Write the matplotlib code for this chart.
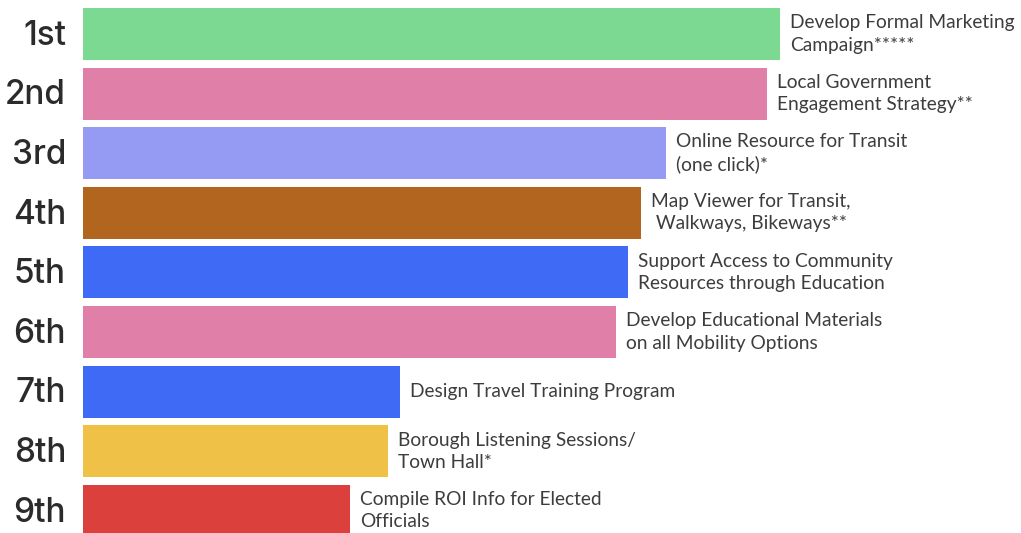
import matplotlib
matplotlib.use("Agg")
import matplotlib.pyplot as plt

ranks = ["1st", "2nd", "3rd", "4th", "5th", "6th", "7th", "8th", "9th"]
labels = [
    "Develop Formal Marketing\nCampaign*****",
    "Local Government\nEngagement Strategy**",
    "Online Resource for Transit\n(one click)*",
    "Map Viewer for Transit,\n Walkways, Bikeways**",
    "Support Access to Community\nResources through Education",
    "Develop Educational Materials\non all Mobility Options",
    "Design Travel Training Program",
    "Borough Listening Sessions/\nTown Hall*",
    "Compile ROI Info for Elected\nOfficials",
]
scores = [697, 684, 583, 558, 545, 533, 317, 305, 267]
colors = ["#7bd992", "#e07fa8", "#959bf2", "#b2651f", "#3f6af5",
          "#e07fa8", "#3f6af5", "#efc247", "#dc403d"]

fig = plt.figure(figsize=(10.21, 5.33), dpi=100)
ax = fig.add_axes([0, 0, 1, 1])
ypos = list(range(len(ranks)))
ax.barh(ypos, scores, height=0.872, color=colors, left=0)
ax.set_xlim(-83, 938)
ax.set_ylim(8.372, -0.570)
ax.axis("off")

for y, r, s, lab in zip(ypos, ranks, scores, labels):
    ax.text(-17, y + 0.03, r, ha="right", va="center", fontsize=24,
            family="Inter", fontweight="medium", color="#2b2b2b")
    ax.text(s + 10, y, lab, ha="left", va="center", fontsize=13.8,
            family="Lato", color="#3d3d3d", linespacing=1.38)

fig.savefig("out.png", dpi=100)
